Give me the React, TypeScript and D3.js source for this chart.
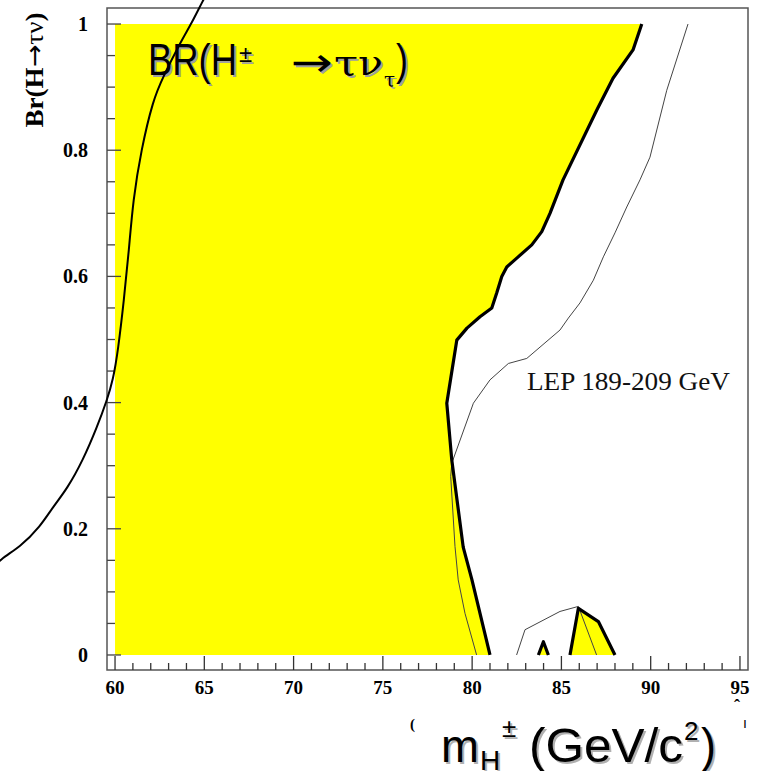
import React from "react";
import * as d3 from "d3";

// Observed excluded-region boundary (thick line)
const massObs = [89.5, 89.01, 87.89, 86.99, 85.09, 84.36, 83.9, 83.34, 82.5, 81.94, 81.66, 81.38, 81.1, 80.44, 79.71, 79.14, 78.58, 78.86, 79.5, 79.99, 81.0];
const brObs = [1.0, 0.959, 0.914, 0.864, 0.753, 0.7, 0.671, 0.65, 0.629, 0.615, 0.6, 0.574, 0.55, 0.536, 0.518, 0.499, 0.399, 0.309, 0.171, 0.119, 0];

// Expected limit (thin line)
const massExp = [92.09, 90.9, 89.96, 89.4, 88.66, 88.0, 87.35, 86.79, 86.04, 85.39, 84.92, 83.06, 82.03, 81.0, 80.07, 78.86, 78.8, 79.04, 79.22, 79.6, 80.25];
const brExp = [1.0, 0.895, 0.789, 0.753, 0.71, 0.669, 0.631, 0.594, 0.558, 0.534, 0.515, 0.47, 0.462, 0.436, 0.399, 0.304, 0.283, 0.172, 0.119, 0.066, 0];

// Small excluded islands near the bottom
const massIsl1 = [83.71, 83.99, 84.27];
const brIsl1 = [0, 0.021, 0];
const massIsl2 = [85.48, 85.95, 87.07, 88.0];
const brIsl2 = [0, 0.074, 0.053, 0];
const massExpIsl = [82.49, 82.96, 84.92, 85.95, 86.97];
const brExpIsl = [0, 0.04, 0.069, 0.077, 0];

// Overlaid oval arc (partly outside the frame)
const massOval = [53.0, 53.56, 54.68, 55.8, 56.53, 57.31, 58.21, 58.99, 59.55, 59.89, 60.17, 60.5, 60.78, 61.01, 61.46, 62.13, 62.69, 63.64, 64.31, 64.93, 65.32];
const brOval = [0.132, 0.152, 0.171, 0.203, 0.235, 0.263, 0.309, 0.361, 0.404, 0.436, 0.483, 0.563, 0.642, 0.721, 0.8, 0.88, 0.916, 0.97, 1.002, 1.038, 1.057];

const xTickMajor = [60, 65, 70, 75, 80, 85, 90, 95];
const yTickMajor = [0, 0.2, 0.4, 0.6, 0.8, 1];
const yTickLabels = ["0", "0.2", "0.4", "0.6", "0.8", "1"];

const W = 758;
const H = 771;

export default function App() {
  const x = d3.scaleLinear().domain([59.55, 95.45]).range([107, 748]);
  const y = d3.scaleLinear().domain([-0.0238, 1.0254]).range([670, 8]);

  const zip = (ms: number[], bs: number[]) => ms.map((m, i) => [m, bs[i]] as [number, number]);
  const line = d3.line<[number, number]>().x((d) => x(d[0])).y((d) => y(d[1]));
  const smooth = d3
    .line<[number, number]>()
    .x((d) => x(d[0]))
    .y((d) => y(d[1]))
    .curve(d3.curveBasis);

  const obs = zip(massObs, brObs);
  const yellowPoly = [[60, 0], [60, 1], ...obs] as [number, number][];
  const isl1 = zip(massIsl1, brIsl1);
  const isl2 = zip(massIsl2, brIsl2);

  const xMinor = d3.range(60, 95.01, 1);
  const yMinor = d3.range(0, 1.0001, 0.05);

  const [x0, x1] = x.range();
  const [yb, yt] = y.range();

  const sans = "'Liberation Sans', Arial, sans-serif";
  const serif = "'Liberation Serif', 'Times New Roman', serif";
  const arrowFont = "'DejaVu Sans', sans-serif";
  const greek = "'DejaVu Serif', serif";

  const brLabel = (fill: string, dx: number, dy: number) => (
    <g transform={`translate(${dx},${dy})`} fill={fill}>
      <text x={148} y={75} fontFamily={sans} fontSize={45} textLength={89} lengthAdjust="spacingAndGlyphs">BR(H</text>
      <text x={239} y={62} fontFamily={sans} fontSize={24}>±</text>
      <text x={291} y={76} fontFamily={arrowFont} fontSize={40} textLength={42} lengthAdjust="spacingAndGlyphs">→</text>
      <text x={334} y={75} fontFamily={greek} fontSize={36} textLength={24} lengthAdjust="spacingAndGlyphs">τ</text>
      <text x={358} y={75} fontFamily={greek} fontSize={36} textLength={25} lengthAdjust="spacingAndGlyphs">ν</text>
      <text x={384} y={87} fontFamily={greek} fontSize={20}>τ</text>
      <text x={396} y={75} fontFamily={sans} fontSize={45} textLength={12} lengthAdjust="spacingAndGlyphs">)</text>
    </g>
  );

  const mLabel = (fill: string, dx: number, dy: number) => (
    <g transform={`translate(${dx},${dy})`} fill={fill}>
      <text x={441} y={762} fontFamily={sans} fontSize={46} textLength={38} lengthAdjust="spacingAndGlyphs">m</text>
      <text x={480} y={770} fontFamily={sans} fontSize={28}>H</text>
      <text x={502} y={737} fontFamily={sans} fontSize={26}>±</text>
      <text x={529} y={762} fontFamily={sans} fontSize={48} textLength={154} lengthAdjust="spacingAndGlyphs">(GeV/c</text>
      <text x={684} y={740} fontFamily={sans} fontSize={26}>2</text>
      <text x={701} y={762} fontFamily={sans} fontSize={48} textLength={15} lengthAdjust="spacingAndGlyphs">)</text>
    </g>
  );

  return (
    <svg
      width={W}
      height={H}
      style={{ position: "absolute", left: 0, top: 0, background: "#fff" }}
    >
      <defs>
        <clipPath id="frame">
          <rect x={x0} y={yt} width={x1 - x0} height={yb - yt} />
        </clipPath>
      </defs>
      <rect x={0} y={0} width={W} height={H} fill="#fff" />

      <g clipPath="url(#frame)">
        <path d={line(yellowPoly) + "Z"} fill="#ffff00" />
        <path d={line(isl1) + "Z"} fill="#ffff00" />
        <path d={line(isl2) + "Z"} fill="#ffff00" />

        <path d={line(zip(massExp, brExp)) || ""} fill="none" stroke="#444" strokeWidth={1} />
        <path d={line(zip(massExpIsl, brExpIsl)) || ""} fill="none" stroke="#444" strokeWidth={1} />

        <path d={line(obs) || ""} fill="none" stroke="#000" strokeWidth={3.2} strokeLinejoin="round" />
        <path d={line(isl1) || ""} fill="none" stroke="#000" strokeWidth={3.2} strokeLinejoin="round" />
        <path d={line(isl2) || ""} fill="none" stroke="#000" strokeWidth={3.2} strokeLinejoin="round" />
      </g>

      {/* frame */}
      <rect x={x0} y={yt} width={x1 - x0} height={yb - yt} fill="none" stroke="#555" strokeWidth={1.5} />

      {/* x ticks */}
      {xMinor.map((m) => {
        const major = Math.abs(m % 5) < 1e-6;
        return (
          <line key={"xt" + m} x1={x(m)} x2={x(m)} y1={yb} y2={yb - (major ? 14 : 7)} stroke="#333" strokeWidth={1.3} />
        );
      })}
      {/* y ticks */}
      {yMinor.map((v, i) => {
        const major = i % 4 === 0;
        return (
          <line key={"yt" + i} x1={x0} x2={x0 + (major ? 14 : 8)} y1={y(v)} y2={y(v)} stroke="#444" strokeWidth={1.3} />
        );
      })}

      {xTickMajor.map((m) => (
        <text key={"xl" + m} x={x(m)} y={694} textAnchor="middle" fontFamily={serif} fontWeight="bold" fontSize={19}>
          {m}
        </text>
      ))}
      {yTickMajor.map((v, i) => (
        <text key={"yl" + v} x={88} y={y(v) + 7} textAnchor="end" fontFamily={serif} fontWeight="bold" fontSize={20}>
          {yTickLabels[i]}
        </text>
      ))}

      {/* y axis title */}
      <text
        transform="translate(43,70) rotate(-90)"
        textAnchor="middle"
        fontFamily={serif}
        fontWeight="bold"
        fontSize={25}
        textLength={115}
        lengthAdjust="spacingAndGlyphs"
      >
        Br(H<tspan fontFamily={arrowFont} fontWeight="normal">→</tspan><tspan fontWeight="normal">τν</tspan>)
      </text>

      {/* BR label */}
      {brLabel("#a0a0a0", 2, 2)}
      {brLabel("#000", 0, 0)}

      {/* LEP label */}
      <text x={527} y={390} fontFamily={serif} fontSize={25} fill="#111" textLength={203} lengthAdjust="spacingAndGlyphs">
        LEP 189-209 GeV
      </text>

      {/* x axis title */}
      {mLabel("#b0b0b0", 2, 2)}
      {mLabel("#000", 0, 0)}

      {/* stray glyph remnants */}
      <text x={410} y={729} fontFamily={serif} fontWeight="bold" fontSize={15}>(</text>
      <text x={743} y={728} fontFamily={sans} fontSize={14}>ı</text>
      <text x={734} y={712} fontFamily={serif} fontWeight="bold" fontSize={18}>ˆ</text>

      {/* overlaid arc */}
      <path d={smooth(zip(massOval, brOval)) || ""} fill="none" stroke="#000" strokeWidth={2} />
    </svg>
  );
}
